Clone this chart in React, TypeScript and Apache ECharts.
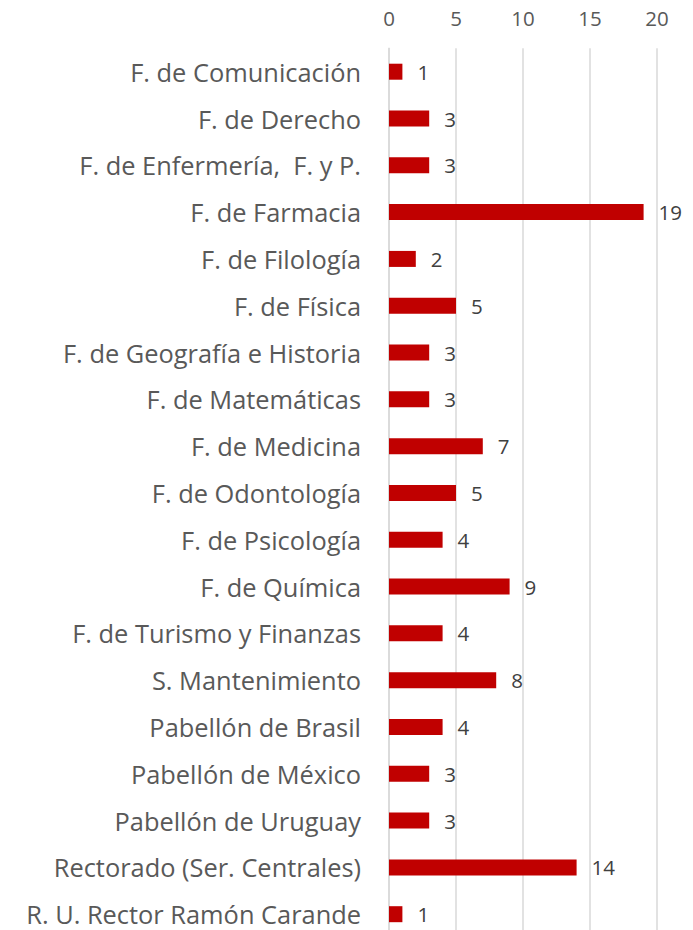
import React, { useEffect, useRef } from "react";
import * as echarts from "echarts";

const categories = [
  "F. de Comunicación",
  "F. de Derecho",
  "F. de Enfermería,  F. y P.",
  "F. de Farmacia",
  "F. de Filología",
  "F. de Física",
  "F. de Geografía e Historia",
  "F. de Matemáticas",
  "F. de Medicina",
  "F. de Odontología",
  "F. de Psicología",
  "F. de Química",
  "F. de Turismo y Finanzas",
  "S. Mantenimiento",
  "Pabellón de Brasil",
  "Pabellón de México",
  "Pabellón de Uruguay",
  "Rectorado (Ser. Centrales)",
  "R. U. Rector Ramón Carande",
];
const values = [1, 3, 3, 19, 2, 5, 3, 3, 7, 5, 4, 9, 4, 8, 4, 3, 3, 14, 1];
const ticks = [0, 5, 10, 15, 20];

export default function App() {
  const ref = useRef<HTMLDivElement>(null);
  useEffect(() => {
    if (!ref.current) return;
    const chart = echarts.init(ref.current, undefined, { renderer: "svg" });
    const font = "'Open Sans', sans-serif";
    chart.setOption({
      animation: false,
      grid: { left: 389, right: 36, top: 48.3, bottom: 2.4, containLabel: false },
      xAxis: {
        type: "value",
        position: "top",
        min: ticks[0],
        max: ticks[ticks.length - 1],
        interval: 5,
        axisLine: { show: false },
        axisTick: { show: false },
        axisLabel: { color: "#595959", fontSize: 20.5, fontFamily: font, margin: 20 },
        splitLine: { show: true, lineStyle: { color: "#d9d9d9", width: 1.5 } },
      },
      yAxis: {
        type: "category",
        data: categories,
        inverse: true,
        axisLine: { show: true, lineStyle: { color: "#d9d9d9", width: 1.5 } },
        axisTick: { show: false },
        axisLabel: { color: "#595959", fontSize: 25.4, fontFamily: font, margin: 28, padding: [0, 0, 3, 0] },
      },
      series: [
        {
          type: "bar",
          data: values,
          barWidth: 16,
          itemStyle: { color: "#c00000" },
          label: {
            show: true,
            position: "right",
            distance: 15,
            color: "#404040",
            fontSize: 20.5,
            fontFamily: font,
          },
        },
      ],
    });
    return () => chart.dispose();
  }, []);
  return (
    <div
      ref={ref}
      style={{ position: "absolute", left: 0, top: 0, width: 693, height: 940, background: "#fff" }}
    />
  );
}
